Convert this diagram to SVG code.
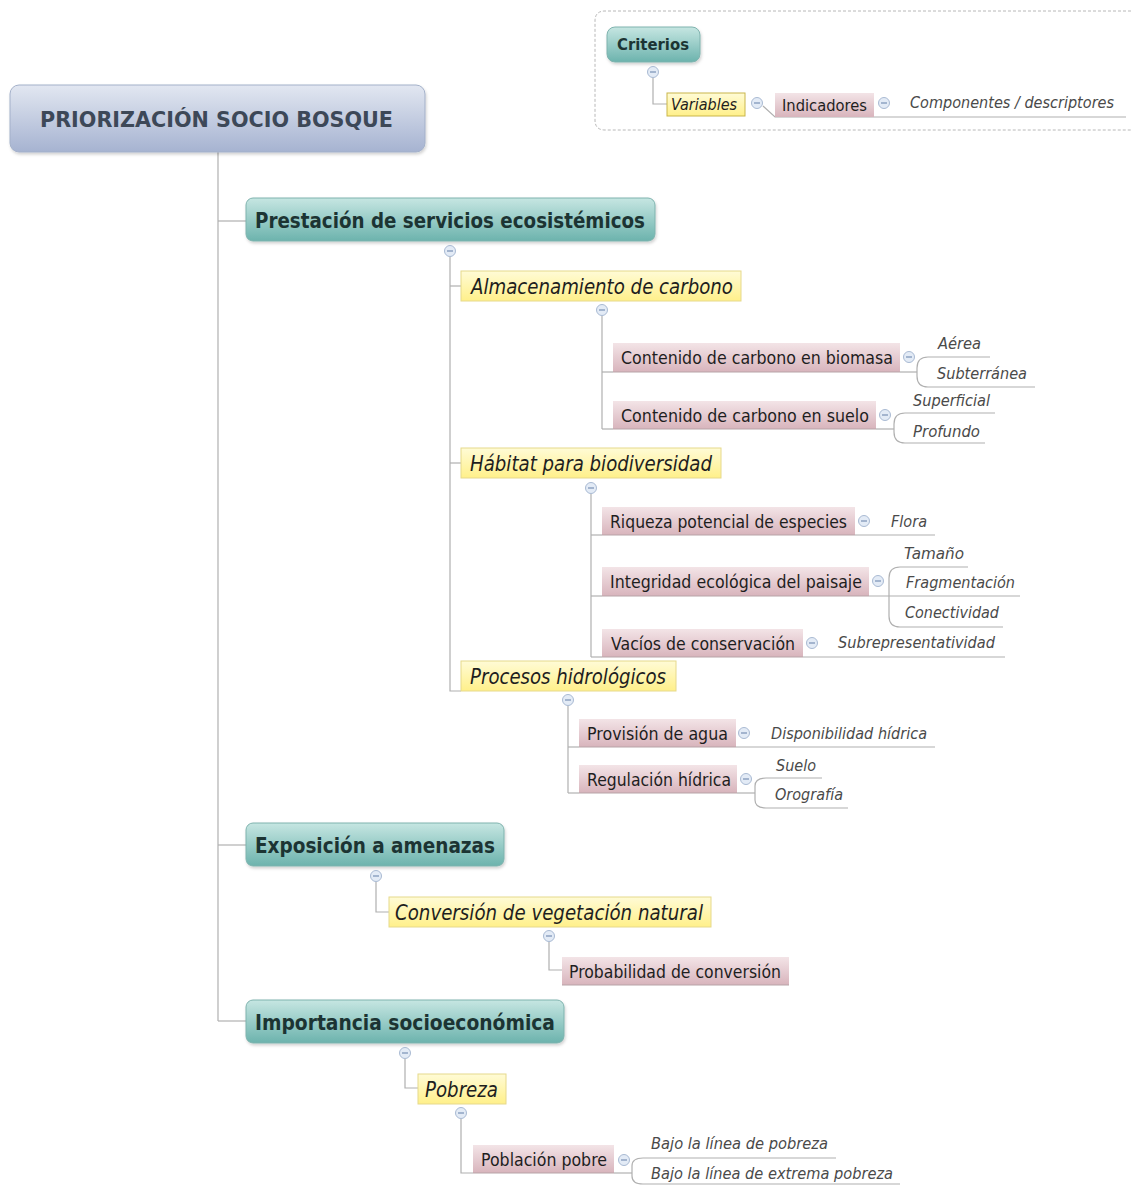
<svg xmlns="http://www.w3.org/2000/svg" xmlns:xlink="http://www.w3.org/1999/xlink" width="1131" height="1185" viewBox="0 0 1131 1185">
<style>
  text { font-family: "DejaVu Sans", "Liberation Sans", sans-serif; }
  .root-t { font-size: 21.5px; font-weight: bold; fill: #3d4858; }
  .l1-t { font-size: 20.5px; font-weight: bold; fill: #1c3433; }
  .l2-t { font-size: 21px; font-style: italic; fill: #1e1e1e; }
  .l3-t { font-size: 17.5px; fill: #1e1e1e; }
  .leaf-t { font-size: 16px; font-style: italic; fill: #4a4a4a; }
  .conn path { fill: none; stroke: #b0b0b0; stroke-width: 1.2; }
  .l1 { fill: url(#gTeal); stroke: #7fb3ae; stroke-width: 1; }
  .l2 { fill: url(#gYellow); stroke: #e6d98c; stroke-width: 1; }
  .l3 { fill: url(#gPink); }
  .l3b { fill: none; stroke: #b8a4a8; stroke-width: 1.2; }
  .tog circle { fill: #e3ebf6; stroke: #a9bad3; stroke-width: 1; }
  .tog line { stroke: #7890b5; stroke-width: 1.2; }
</style>
<defs>
  <linearGradient id="gRoot" x1="0" y1="0" x2="0" y2="1">
    <stop offset="0" stop-color="#e2e7f1"/>
    <stop offset="1" stop-color="#a6b3d1"/>
  </linearGradient>
  <linearGradient id="gTeal" x1="0" y1="0" x2="0" y2="1">
    <stop offset="0" stop-color="#c6e6e2"/>
    <stop offset="1" stop-color="#6cb3ad"/>
  </linearGradient>
  <linearGradient id="gYellow" x1="0" y1="0" x2="0" y2="1">
    <stop offset="0" stop-color="#fffbd6"/>
    <stop offset="1" stop-color="#fff08a"/>
  </linearGradient>
  <linearGradient id="gPink" x1="0" y1="0" x2="0" y2="1">
    <stop offset="0" stop-color="#f3e4e7"/>
    <stop offset="1" stop-color="#d8b4bc"/>
  </linearGradient>
  <filter id="sh" x="-5%" y="-20%" width="110%" height="150%">
    <feDropShadow dx="1" dy="2" stdDeviation="1.5" flood-color="#000" flood-opacity="0.18"/>
  </filter>
  <g id="minus" class="tog">
    <circle cx="0" cy="0" r="5.5"/>
    <line x1="-3" y1="0" x2="3" y2="0"/>
  </g>
</defs>
<rect width="1131" height="1185" fill="#ffffff"/>

<!-- legend frame -->
<g id="legend">
  <path d="M1131 11 H605 Q595 11 595 21 V120 Q595 130 605 130 H1131" fill="none" stroke="#b8b8b8" stroke-width="1" stroke-dasharray="3,2"/>
</g>

<g class="conn" id="connectors">
  <!-- legend -->
  <path d="M653 78 V104 H667"/>
  <path d="M763 106 L775 117 H1126"/>
  <!-- root -->
  <path d="M218 152 V1021"/>
  <path d="M218 221 H246"/>
  <path d="M218 845 H246"/>
  <path d="M218 1021 H246"/>
  <!-- Prestacion -->
  <path d="M450 257 V691 H461"/>
  <path d="M450 286 H461"/>
  <path d="M450 463 H461"/>
  <!-- Almacenamiento -->
  <path d="M602 316 V429"/>
  <path d="M602 372 H613"/>
  <path d="M602 429 H613"/>
  <path d="M900 372 H917"/>
  <path d="M928 357 Q917 357 917 368 V376 Q917 387 928 387 H1035"/>
  <path d="M928 357 H990"/>
  <path d="M876 429 H894"/>
  <path d="M905 413 Q894 413 894 424 V432 Q894 443 905 443 H985"/>
  <path d="M905 413 H995"/>
  <!-- Habitat -->
  <path d="M591 494 V657"/>
  <path d="M591 535 H602"/>
  <path d="M855 535 H935"/>
  <path d="M591 596 H602"/>
  <path d="M869 596 H1020"/>
  <path d="M900 567 Q889 567 889 578 V616 Q889 627 900 627 H1003"/>
  <path d="M900 567 H968"/>
  <path d="M591 657 H602"/>
  <path d="M803 657 H1005"/>
  <!-- Procesos -->
  <path d="M568 706 V793"/>
  <path d="M568 747 H579"/>
  <path d="M736 747 H935"/>
  <path d="M568 793 H579"/>
  <path d="M737 793 H755"/>
  <path d="M766 778 Q755 778 755 786 V800 Q755 808 766 808 H848"/>
  <path d="M766 778 H822"/>
  <!-- Exposicion -->
  <path d="M376 882 V912 H389"/>
  <path d="M549 942 V970 H562"/>
  <!-- Importancia -->
  <path d="M405 1059 V1088 H418"/>
  <path d="M461 1119 V1173 H473"/>
  <path d="M614 1173 H632"/>
  <path d="M643 1158 Q632 1158 632 1166 V1176 Q632 1184 643 1184 H900"/>
  <path d="M643 1158 H836"/>
</g>

<!-- legend nodes -->
<g id="n-criterios">
  <rect class="l1" x="607" y="27" width="93" height="35" rx="8" filter="url(#sh)"/>
  <text x="617" y="50" font-size="16" font-weight="bold" fill="#1c3433" textLength="72" lengthAdjust="spacingAndGlyphs">Criterios</text>
  <use href="#minus" x="653" y="72"/>
</g>
<g id="n-variables">
  <rect x="667" y="93" width="78" height="23" fill="url(#gYellow)" stroke="#c9b64a" stroke-width="1"/>
  <text x="671" y="110" font-size="15.5" font-style="italic" fill="#1e1e1e" textLength="66" lengthAdjust="spacingAndGlyphs">Variables</text>
  <use href="#minus" x="757" y="103"/>
</g>
<g id="n-indicadores">
  <rect class="l3" x="775" y="93" width="99" height="24"/>
  <text x="782" y="111" font-size="16.5" fill="#1e1e1e" textLength="85" lengthAdjust="spacingAndGlyphs">Indicadores</text>
  <use href="#minus" x="884" y="103"/>
</g>
<g id="n-componentes">
  <text x="910" y="108" font-size="15" font-style="italic" fill="#4a4a4a" textLength="204" lengthAdjust="spacingAndGlyphs">Componentes / descriptores</text>
</g>

<!-- root -->
<g id="n-root">
  <rect x="10" y="85" width="415" height="67" rx="9" fill="url(#gRoot)" stroke="#a3b0c9" stroke-width="1" filter="url(#sh)"/>
  <text class="root-t" x="40" y="127" textLength="353" lengthAdjust="spacingAndGlyphs">PRIORIZACIÓN SOCIO BOSQUE</text>
</g>

<!-- level 1 -->
<g id="n-prestacion">
  <rect class="l1" x="246" y="198" width="409" height="43" rx="7" filter="url(#sh)"/>
  <text class="l1-t" x="255" y="228" textLength="390" lengthAdjust="spacingAndGlyphs">Prestación de servicios ecosistémicos</text>
  <use href="#minus" x="450" y="251"/>
</g>
<g id="n-exposicion">
  <rect class="l1" x="246" y="823" width="258" height="43" rx="7" filter="url(#sh)"/>
  <text class="l1-t" x="255" y="853" textLength="240" lengthAdjust="spacingAndGlyphs">Exposición a amenazas</text>
  <use href="#minus" x="376" y="876"/>
</g>
<g id="n-importancia">
  <rect class="l1" x="246" y="1000" width="318" height="43" rx="7" filter="url(#sh)"/>
  <text class="l1-t" x="255" y="1030" textLength="300" lengthAdjust="spacingAndGlyphs">Importancia socioeconómica</text>
  <use href="#minus" x="405" y="1053"/>
</g>

<!-- level 2 -->
<g id="n-almacenamiento">
  <rect class="l2" x="461" y="271" width="280" height="30"/>
  <text class="l2-t" x="471" y="294" textLength="262" lengthAdjust="spacingAndGlyphs">Almacenamiento de carbono</text>
  <use href="#minus" x="602" y="310"/>
</g>
<g id="n-habitat">
  <rect class="l2" x="461" y="448" width="260" height="30"/>
  <text class="l2-t" x="470" y="471" textLength="242" lengthAdjust="spacingAndGlyphs">Hábitat para biodiversidad</text>
  <use href="#minus" x="591" y="488"/>
</g>
<g id="n-procesos">
  <rect class="l2" x="461" y="661" width="215" height="30"/>
  <text class="l2-t" x="470" y="684" textLength="196" lengthAdjust="spacingAndGlyphs">Procesos hidrológicos</text>
  <use href="#minus" x="568" y="700"/>
</g>
<g id="n-conversion">
  <rect class="l2" x="389" y="897" width="322" height="30"/>
  <text class="l2-t" x="395" y="920" textLength="308" lengthAdjust="spacingAndGlyphs">Conversión de vegetación natural</text>
  <use href="#minus" x="549" y="936"/>
</g>
<g id="n-pobreza">
  <rect class="l2" x="418" y="1074" width="88" height="30"/>
  <text class="l2-t" x="425" y="1097" textLength="73" lengthAdjust="spacingAndGlyphs">Pobreza</text>
  <use href="#minus" x="461" y="1113"/>
</g>

<!-- level 3 -->
<g id="n-biomasa">
  <rect class="l3" x="613" y="343" width="287" height="29"/>
  <path class="l3b" d="M613 372 H900"/>
  <text class="l3-t" x="621" y="364" textLength="272" lengthAdjust="spacingAndGlyphs">Contenido de carbono en biomasa</text>
  <use href="#minus" x="909" y="357"/>
</g>
<g id="n-suelo">
  <rect class="l3" x="613" y="401" width="263" height="28"/>
  <path class="l3b" d="M613 429 H876"/>
  <text class="l3-t" x="621" y="422" textLength="248" lengthAdjust="spacingAndGlyphs">Contenido de carbono en suelo</text>
  <use href="#minus" x="885" y="415"/>
</g>
<g id="n-riqueza">
  <rect class="l3" x="602" y="507" width="253" height="28"/>
  <path class="l3b" d="M602 535 H855"/>
  <text class="l3-t" x="610" y="528" textLength="237" lengthAdjust="spacingAndGlyphs">Riqueza potencial de especies</text>
  <use href="#minus" x="864" y="521"/>
</g>
<g id="n-integridad">
  <rect class="l3" x="602" y="567" width="267" height="29"/>
  <path class="l3b" d="M602 596 H869"/>
  <text class="l3-t" x="610" y="588" textLength="252" lengthAdjust="spacingAndGlyphs">Integridad ecológica del paisaje</text>
  <use href="#minus" x="878" y="581"/>
</g>
<g id="n-vacios">
  <rect class="l3" x="602" y="629" width="201" height="28"/>
  <path class="l3b" d="M602 657 H803"/>
  <text class="l3-t" x="611" y="650" textLength="184" lengthAdjust="spacingAndGlyphs">Vacíos de conservación</text>
  <use href="#minus" x="812" y="643"/>
</g>
<g id="n-provision">
  <rect class="l3" x="579" y="719" width="157" height="28"/>
  <path class="l3b" d="M579 747 H736"/>
  <text class="l3-t" x="587" y="740" textLength="141" lengthAdjust="spacingAndGlyphs">Provisión de agua</text>
  <use href="#minus" x="744" y="733"/>
</g>
<g id="n-regulacion">
  <rect class="l3" x="579" y="765" width="158" height="28"/>
  <path class="l3b" d="M579 793 H737"/>
  <text class="l3-t" x="587" y="786" textLength="144" lengthAdjust="spacingAndGlyphs">Regulación hídrica</text>
  <use href="#minus" x="746" y="779"/>
</g>
<g id="n-probabilidad">
  <rect class="l3" x="562" y="957" width="227" height="28"/>
  <path class="l3b" d="M562 985 H789"/>
  <text class="l3-t" x="569" y="978" textLength="212" lengthAdjust="spacingAndGlyphs">Probabilidad de conversión</text>
</g>
<g id="n-poblacion">
  <rect class="l3" x="473" y="1145" width="141" height="28"/>
  <path class="l3b" d="M473 1173 H614"/>
  <text class="l3-t" x="481" y="1166" textLength="126" lengthAdjust="spacingAndGlyphs">Población pobre</text>
  <use href="#minus" x="624" y="1160"/>
</g>

<!-- leaves -->
<g id="n-aerea"><text class="leaf-t" x="938" y="349" textLength="43" lengthAdjust="spacingAndGlyphs">Aérea</text></g>
<g id="n-subterranea"><text class="leaf-t" x="937" y="379" textLength="90" lengthAdjust="spacingAndGlyphs">Subterránea</text></g>
<g id="n-superficial"><text class="leaf-t" x="913" y="406" textLength="77" lengthAdjust="spacingAndGlyphs">Superficial</text></g>
<g id="n-profundo"><text class="leaf-t" x="913" y="437" textLength="67" lengthAdjust="spacingAndGlyphs">Profundo</text></g>
<g id="n-flora"><text class="leaf-t" x="891" y="527" textLength="36" lengthAdjust="spacingAndGlyphs">Flora</text></g>
<g id="n-tamano"><text class="leaf-t" x="904" y="559" textLength="60" lengthAdjust="spacingAndGlyphs">Tamaño</text></g>
<g id="n-fragmentacion"><text class="leaf-t" x="906" y="588" textLength="109" lengthAdjust="spacingAndGlyphs">Fragmentación</text></g>
<g id="n-conectividad"><text class="leaf-t" x="905" y="618" textLength="94" lengthAdjust="spacingAndGlyphs">Conectividad</text></g>
<g id="n-subrepresentatividad"><text class="leaf-t" x="838" y="648" textLength="157" lengthAdjust="spacingAndGlyphs">Subrepresentatividad</text></g>
<g id="n-disponibilidad"><text class="leaf-t" x="771" y="739" textLength="156" lengthAdjust="spacingAndGlyphs">Disponibilidad hídrica</text></g>
<g id="n-suelo-leaf"><text class="leaf-t" x="776" y="771" textLength="40" lengthAdjust="spacingAndGlyphs">Suelo</text></g>
<g id="n-orografia"><text class="leaf-t" x="775" y="800" textLength="68" lengthAdjust="spacingAndGlyphs">Orografía</text></g>
<g id="n-bajo1"><text class="leaf-t" x="651" y="1149" textLength="177" lengthAdjust="spacingAndGlyphs">Bajo la línea de pobreza</text></g>
<g id="n-bajo2"><text class="leaf-t" x="651" y="1179" textLength="242" lengthAdjust="spacingAndGlyphs">Bajo la línea de extrema pobreza</text></g>
</svg>
